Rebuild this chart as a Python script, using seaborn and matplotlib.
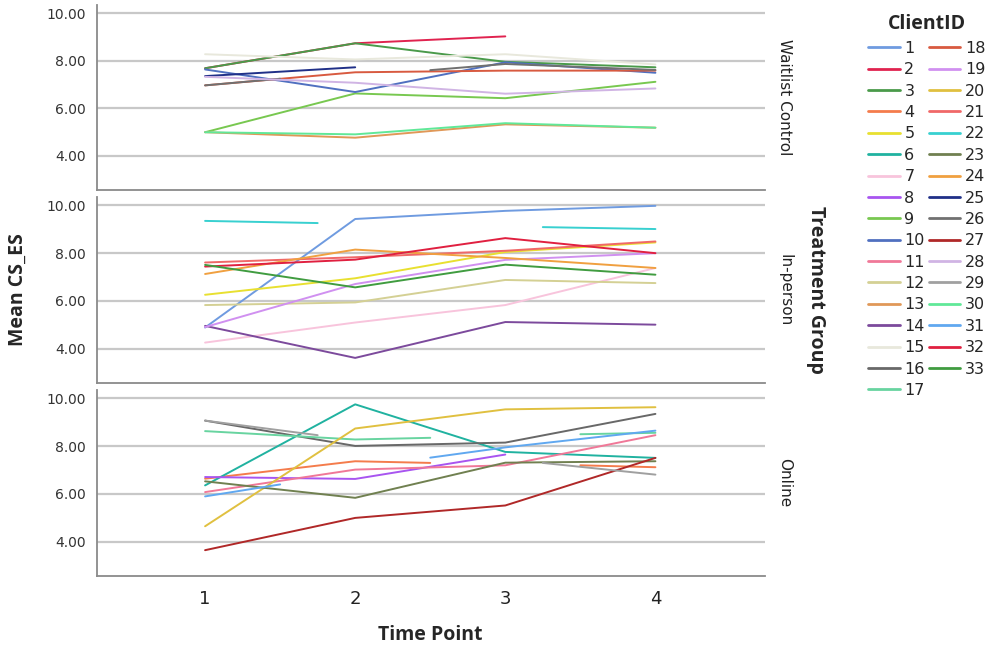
import numpy as np
import pandas as pd
import matplotlib.pyplot as plt
from matplotlib.lines import Line2D
import seaborn as sns

# panel names and client ids per panel
groups = ['Waitlist Control', 'In-person', 'Online']

waitlist_ids = [2, 3, 15, 25, 10, 26, 18, 28, 9, 30, 13]
waitlist_t = [[1, 2, 3], [1, 2, 3, 4], [1, 2, 3, 4], [1, 2], [1, 2, 3, 4],
              [1, 1.5, None, 2.5, 3, 4], [1, 2, 3, 4], [1, 2, 3, 4],
              [1, 2, 3, 4], [1, 2, 3, 4], [1, 2, 3, 4]]
waitlist_y = [[7.69, 8.74, 9.03], [7.69, 8.74, 7.96, 7.73], [8.28, 8.06, 8.28, 7.85],
              [7.36, 7.73], [7.64, 6.69, 7.94, 7.50],
              [6.97, 7.25, None, 7.61, 7.87, 7.62], [6.97, 7.52, 7.59, 7.59],
              [7.33, 7.08, 6.62, 6.84], [5.00, 6.63, 6.43, 7.12],
              [5.00, 4.91, 5.38, 5.19], [5.00, 4.77, 5.33, 5.19]]

inperson_ids = [22, 1, 32, 24, 21, 33, 5, 19, 12, 7, 14]
inperson_t = [[1, 1.75, None, 3.25, 4], [1, 2, 3, 4], [1, 2, 3, 4], [1, 2, 3, 4],
              [1, 2, 3, 4], [1, 2, 3, 4], [1, 2, 3, 4], [1, 2, 3, 4],
              [1, 2, 3, 4], [1, 2, 3, 4], [1, 2, 3, 4]]
inperson_y = [[9.35, 9.26, None, 9.09, 9.01], [4.89, 9.43, 9.77, 9.98],
              [7.44, 7.73, 8.63, 8.00], [7.13, 8.15, 7.80, 7.38],
              [7.61, 7.83, 8.10, 8.49], [7.51, 6.57, 7.52, 7.10],
              [6.26, 6.95, 8.05, 8.45], [4.91, 6.71, 7.72, 8.00],
              [5.83, 5.94, 6.88, 6.75], [4.26, 5.10, 5.83, 7.38],
              [4.96, 3.62, 5.12, 5.01]]

online_ids = [6, 20, 16, 29, 17, 31, 4, 11, 8, 23, 27]
online_t = [[1, 2, 3, 4], [1, 2, 3, 4], [1, 2, 3, 4], [1, 1.75, None, 3.25, 4],
            [1, 2, 2.5, None, 3.5, 4], [1, 1.5, None, 2.5, 3, 4],
            [1, 2, 2.5, None, 3.5, 4], [1, 2, 3, 4], [1, 2, 3],
            [1, 2, 3, 4], [1, 2, 3, 4]]
online_y = [[6.36, 9.75, 7.76, 7.51], [4.65, 8.74, 9.54, 9.63],
            [9.07, 8.01, 8.15, 9.35], [9.07, 8.46, None, 7.30, 6.81],
            [8.63, 8.28, 8.35, None, 8.50, 8.56], [5.90, 6.40, None, 7.52, 7.95, 8.65],
            [6.64, 7.37, 7.30, None, 7.20, 7.12], [6.08, 7.02, 7.20, 8.46],
            [6.71, 6.63, 7.65], [6.53, 5.84, 7.31, 7.37], [3.65, 5.00, 5.52, 7.51]]

client_colors = ['#6f9be0', '#e0234f', '#4a9a4a', '#f47c4c', '#e8e030', '#20b2a0',
                 '#f8c4dc', '#a855f0', '#78c850', '#5070c0', '#f07898', '#d4d094',
                 '#e09858', '#7c4a9c', '#e8e8dc', '#686868', '#68d4a0', '#d85a40',
                 '#d090f0', '#e0c040', '#f06868', '#38d0d0', '#708050', '#f0a040',
                 '#203088', '#707070', '#b02828', '#d0b4e4', '#a0a0a0', '#60e898',
                 '#60a8f0', '#e02040', '#409c40']
all_ids = list(range(1, 34))
palette = dict(zip(all_ids, client_colors))

# long table, a new segment starts after every None
rows = []
for g, ids, ts, ys in zip(groups, [waitlist_ids, inperson_ids, online_ids],
                          [waitlist_t, inperson_t, online_t],
                          [waitlist_y, inperson_y, online_y]):
    for cid, tt, yy in zip(ids, ts, ys):
        seg = 0
        for t, v in zip(tt, yy):
            if t is None:
                seg += 1
                continue
            rows.append({'Group': g, 'ClientID': cid, 'Seg': f'{cid}-{seg}',
                         'Time': t, 'Score': v})
df = pd.DataFrame(rows)

sns.set_style('white')
plt.rcParams['font.family'] = ['DejaVu Sans']

fig = plt.figure(figsize=(9.86, 6.49), dpi=100)
W, H = 986, 649
left, right = 97, 765
tops = [5, 197, 390]
bottoms = [190, 383, 576]

axes = []
for i, g in enumerate(groups):
    ax = fig.add_axes([left / W, 1 - bottoms[i] / H, (right - left) / W,
                       (bottoms[i] - tops[i]) / H])
    sub = df[df.Group == g]
    sns.lineplot(data=sub, x='Time', y='Score', hue='ClientID', units='Seg',
                 estimator=None, palette=palette, legend=False, linewidth=1.4,
                 ax=ax)
    ax.set_xlim(0.28, 4.73)
    ax.set_ylim(2.57, 10.35)
    ax.set_yticks([4, 6, 8, 10])
    ax.set_yticklabels(['4.00', '6.00', '8.00', '10.00'], fontsize=10, color='#333333')
    ax.yaxis.grid(True, color='#c8c8c8', linewidth=1.6)
    ax.set_axisbelow(True)
    for s in ['top', 'right']:
        ax.spines[s].set_visible(False)
    for s in ['left', 'bottom']:
        ax.spines[s].set_color('#8a8a8a')
        ax.spines[s].set_linewidth(1.3)
    ax.tick_params(axis='y', length=0, pad=8)
    ax.set_xlabel('')
    ax.set_ylabel('')
    if i < 2:
        ax.set_xticks([])
    else:
        ax.set_xticks([1, 2, 3, 4])
        ax.set_xticklabels(['1', '2', '3', '4'], fontsize=13, color='#222222')
        ax.tick_params(axis='x', length=0, pad=10)
    ax.text(1.018, 0.5, g, transform=ax.transAxes, rotation=270, va='center',
            ha='left', fontsize=11, color='#222222')
    axes.append(ax)

fig.text(18 / W, 1 - 290 / H, 'Mean CS_ES', rotation=90, va='center', ha='center',
         fontsize=14, fontweight='bold', family='Open Sans')
fig.text(430 / W, 1 - 635 / H, 'Time Point', va='center', ha='center',
         fontsize=14, fontweight='bold', family='Open Sans')
fig.text(816 / W, 1 - 290 / H, 'Treatment Group', rotation=270, va='center',
         ha='center', fontsize=14, fontweight='bold', family='Open Sans')

handles = [Line2D([], [], color=palette[c], linewidth=2) for c in all_ids]
leg = fig.legend(handles, [str(c) for c in all_ids], ncol=2, loc='upper left',
                 bbox_to_anchor=(862 / W, 1 - 8 / H), frameon=False,
                 fontsize=11.5, handlelength=1.95, handletextpad=0.3,
                 columnspacing=0.25, labelspacing=0.4, borderaxespad=0)
leg.set_title('ClientID', prop={'weight': 'bold', 'size': 14, 'family': 'Open Sans'})

plt.savefig('out.png', dpi=100)
